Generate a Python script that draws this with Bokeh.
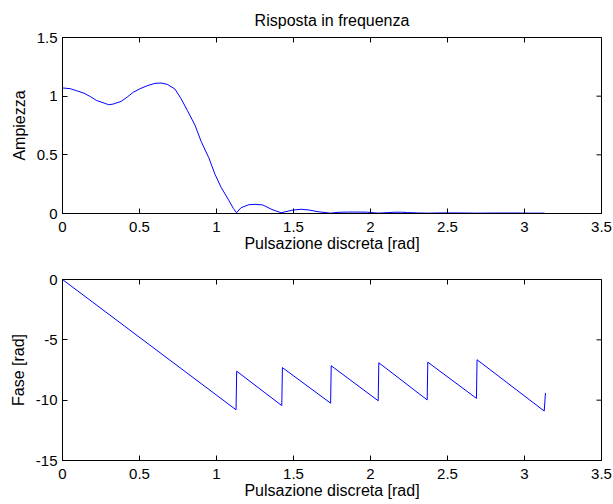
import math
from bokeh.plotting import figure
from bokeh.models import Range1d, FixedTicker
from bokeh.layouts import column
from bokeh.embed import file_html
from bokeh.resources import INLINE

FONT = "Liberation Sans"

# ---- data ----
mag_w = [0.00, 0.05, 0.09, 0.14, 0.18, 0.22, 0.27, 0.30, 0.33, 0.38, 0.42, 0.46,
         0.51, 0.55, 0.60, 0.64, 0.68, 0.73, 0.77, 0.81, 0.86, 0.90, 0.95, 0.99,
         1.03, 1.08, 1.11, 1.13, 1.16, 1.21, 1.25, 1.30, 1.36, 1.42, 1.49, 1.55,
         1.60, 1.66, 1.74, 1.79, 1.85, 1.92, 1.98, 2.05, 2.12, 2.16, 2.20, 2.24,
         2.30, 2.37, 2.45, 2.55, 2.69, 2.80, 2.95, 3.05, 3.13]
mag_a = [1.070, 1.064, 1.047, 1.025, 0.997, 0.964, 0.941, 0.927, 0.933, 0.955, 0.992, 1.034,
         1.067, 1.089, 1.109, 1.112, 1.101, 1.061, 0.978, 0.880, 0.754, 0.615, 0.475, 0.335,
         0.223, 0.112, 0.042, 0.006, 0.050, 0.075, 0.078, 0.073, 0.034, 0.006, 0.028, 0.036,
         0.030, 0.015, 0.003, 0.010, 0.012, 0.012, 0.011, 0.003, 0.008, 0.011, 0.011, 0.008,
         0.005, 0.003, 0.005, 0.005, 0.003, 0.004, 0.004, 0.003, 0.003]

phase_w = [0.0, 1.127, 1.131, 1.424, 1.428, 1.741, 1.745, 2.050, 2.054, 2.368, 2.372,
           2.688, 2.692, 3.128, 3.136]
phase_v = [0.0, -10.8, -7.6, -10.45, -7.3, -10.25, -7.15, -10.05, -6.9, -9.98, -6.85,
           -9.85, -6.65, -10.9, -9.4]

x_ticks = [0, 0.5, 1, 1.5, 2, 2.5, 3, 3.5]
x_tick_labels = ["0", "0.5", "1", "1.5", "2", "2.5", "3", "3.5"]
mag_ticks = [0, 0.5, 1, 1.5]
mag_tick_labels = ["0", "0.5", "1", "1.5"]
phase_ticks = [-15, -10, -5, 0]
phase_tick_labels = ["-15", "-10", "-5", "0"]

title_text = "Risposta in frequenza"
x_label = "Pulsazione discreta [rad]"
mag_label = "Ampiezza"
phase_label = "Fase [rad]"

X_MIN, X_MAX = 0, 3.5


def style_axis(ax, ticks, labels, label_text, tick_standoff, label_standoff):
    ax.ticker = FixedTicker(ticks=ticks)
    ax.major_label_overrides = {t: l for t, l in zip(ticks, labels)}
    ax.minor_tick_line_color = None
    ax.major_tick_in = 5
    ax.major_tick_out = 0
    ax.axis_line_color = "black"
    ax.major_tick_line_color = "black"
    ax.major_label_text_color = "black"
    ax.major_label_text_font = FONT
    ax.major_label_text_font_size = "15px"
    ax.major_label_standoff = tick_standoff
    ax.axis_label = label_text
    ax.axis_label_text_font = FONT
    ax.axis_label_text_font_style = "normal"
    ax.axis_label_text_color = "black"
    ax.axis_label_text_font_size = "16px"
    ax.axis_label_standoff = label_standoff


def make_fig(height, y0, y1, yticks, ylabels, ylab, mb_top, mb_bottom, xs, ys):
    p = figure(width=613, height=height, x_range=Range1d(X_MIN, X_MAX), y_range=Range1d(y0, y1),
               output_backend="svg", toolbar_location=None,
               min_border_left=62, min_border_right=12,
               min_border_top=mb_top, min_border_bottom=mb_bottom)
    p.xgrid.visible = False
    p.ygrid.visible = False
    p.outline_line_color = "black"
    p.background_fill_color = "white"
    p.border_fill_color = "white"
    style_axis(p.xaxis[0], x_ticks, x_tick_labels, x_label, 8, 0)
    style_axis(p.yaxis[0], yticks, ylabels, ylab, 5, 6)
    # inner ticks on the top and right sides of the box (clipped to the frame)
    p.scatter(x_ticks, [y1] * len(x_ticks), marker="dash", size=10, angle=math.pi / 2,
              line_color="black", line_width=1)
    p.scatter([X_MAX] * len(yticks), yticks, marker="dash", size=10,
              line_color="black", line_width=1)
    p.line(xs, ys, line_color="#0000ff", line_width=1)
    return p


p1 = make_fig(257, 0, 1.5, mag_ticks, mag_tick_labels, mag_label, 34, 44, mag_w, mag_a)
p1.title.text = title_text
p1.title.align = "center"
p1.title.text_font = FONT
p1.title.text_font_size = "16px"
p1.title.text_font_style = "normal"
p1.title.text_color = "black"
p1.title.standoff = 18

p2 = make_fig(247, -15, 0, phase_ticks, phase_tick_labels, phase_label, 22, 44, phase_w, phase_v)

layout = column(p1, p2)
open("out.html", "w").write(file_html(layout, INLINE))
